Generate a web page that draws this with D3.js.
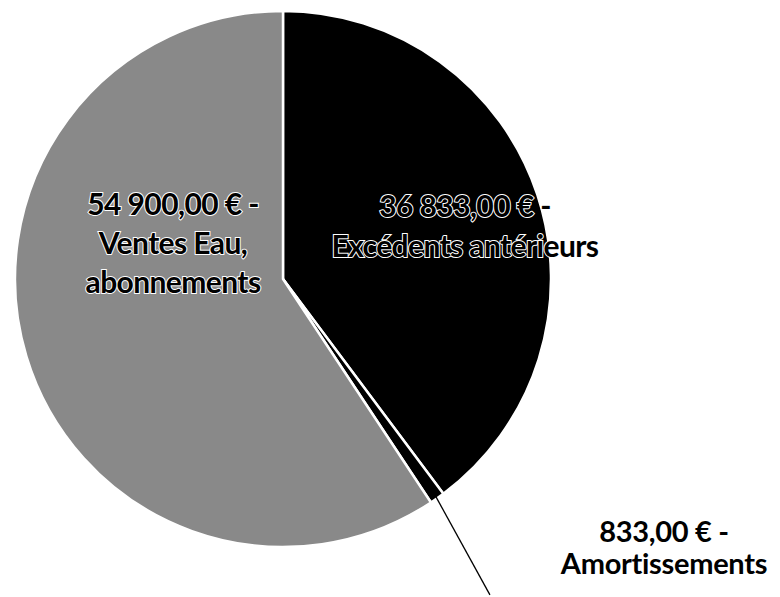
<!DOCTYPE html>
<html>
<head>
<meta charset="utf-8">
<script src="https://cdn.jsdelivr.net/npm/d3@7"></script>
<style>
  body { margin: 0; background: #fff; }
  #chart text { font-family: Lato, "Noto Sans", sans-serif; font-weight: bold; }
</style>
</head>
<body>
<div id="chart"></div>
<script>
// data
var labels = ["Excédents antérieurs", "Amortissements", "Ventes Eau, abonnements"];
var values = [36833, 833, 54900];
var fills = ["#000000", "#000000", "#898989"];
// label lines, as printed on the chart
var labelLines = [
  ["36 833,00 € -", "Excédents antérieurs"],
  ["833,00 € -", "Amortissements"],
  ["54 900,00 € -", "Ventes Eau,", "abonnements"]
];

var width = 780, height = 597;
var cx = 283, cy = 279, radius = 268;

var svg = d3.select("#chart").append("svg")
  .attr("width", width)
  .attr("height", height);

var g = svg.append("g")
  .attr("transform", "translate(" + cx + "," + cy + ")");

var pie = d3.pie().sort(null).value(function(d) { return d; });
var arcs = pie(values);

var arc = d3.arc().innerRadius(0).outerRadius(radius);

g.selectAll("path.slice")
  .data(arcs)
  .enter().append("path")
  .attr("class", "slice")
  .attr("d", arc)
  .attr("fill", function(d, i) { return fills[i]; })
  .attr("stroke", "#fff")
  .attr("stroke-width", 2.5)
  .attr("stroke-linejoin", "round");

// label placement (relative to pie centre)
var labelPos = [
  { x: 182, y: -62, size: 30, lh: 40, ls: -0.6 },
  { x: 381, y: 263, size: 29, lh: 32, ls: -0.3 },
  { x: -110, y: -64, size: 30, lh: 39, ls: -0.6 }
];

// leader line for the small slice
var small = arcs[1];
var mid = (small.startAngle + small.endAngle) / 2;
var p0 = [Math.sin(mid) * (radius - 4), -Math.cos(mid) * (radius - 4)];
g.append("line")
  .attr("x1", p0[0])
  .attr("y1", p0[1])
  .attr("x2", p0[0] + 55)
  .attr("y2", p0[1] + 100)
  .attr("stroke", "#000")
  .attr("stroke-width", 1.3);

labelLines.forEach(function(lines, i) {
  var p = labelPos[i];
  var t = g.append("text")
    .attr("text-anchor", "middle")
    .attr("font-size", p.size)
    .attr("fill", "#000")
    .attr("stroke", i == 1 ? "none" : "#fff")
    .attr("stroke-width", 2)
    .attr("paint-order", "stroke")
    .attr("letter-spacing", p.ls);
  lines.forEach(function(l, j) {
    t.append("tspan")
      .attr("x", p.x)
      .attr("y", p.y + j * p.lh)
      .text(l);
  });
});
</script>
</body>
</html>
